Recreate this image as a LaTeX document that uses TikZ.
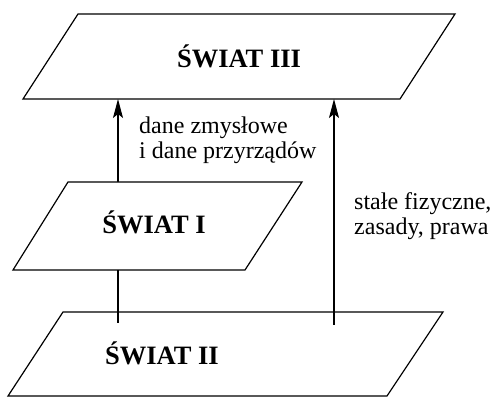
\documentclass[tikz,border=0pt]{standalone}
\usepackage{fontspec}
\setmainfont{Liberation Serif}
\usetikzlibrary{arrows.meta}
\begin{document}
\begin{tikzpicture}[x=1pt,y=-1pt,
  plane/.style={draw, line width=1.2pt, fill=white, line join=miter},
  conn/.style={line width=1.2pt, -{Stealth[length=19pt,width=10pt,inset=4pt]}},
  world/.style={font=\fontsize{26.5}{30}\selectfont\bfseries, anchor=base, inner sep=0pt},
  lab/.style={font=\fontsize{24}{25}\selectfont, anchor=base west, inner sep=0pt}]
\useasboundingbox (0,0) rectangle (493,398);
% plane II (bottom)
\draw[plane] (63,312) coordinate (p2a) -- (443,312) coordinate (p2b) -- (387,396) coordinate (p2c) -- (8,396) coordinate (p2d) -- cycle;
\node[world] (w2) at (162,364) {ŚWIAT II};
% arrow start / end points
\coordinate (s1) at (118,323);
\coordinate (e1) at (118,99);
\coordinate (s2) at (334,325);
\coordinate (e2) at (334,99);
\draw[conn] (s1) -- (e1);
\draw[conn] (s2) -- (e2);
% plane I (middle)
\draw[plane] (68,182) coordinate (p1a) -- (302,182) coordinate (p1b) -- (245,270) coordinate (p1c) -- (13,270) coordinate (p1d) -- cycle;
\node[world] (w1) at (154,234) {ŚWIAT I};
% plane III (top)
\draw[plane] (78,14) coordinate (p3a) -- (455,14) coordinate (p3b) -- (400,99) coordinate (p3c) -- (23,99) coordinate (p3d) -- cycle;
\node[world] (w3) at (239,68) {ŚWIAT III};
% labels
\node[lab] (l1a) at (139,134) {dane zmysłowe};
\node[lab] (l1b) at (139,159) {i dane przyrządów};
\node[lab] (l2a) at (354,210) {stałe fizyczne,};
\node[lab] (l2b) at (354,235) {zasady, prawa};
\end{tikzpicture}
\end{document}
